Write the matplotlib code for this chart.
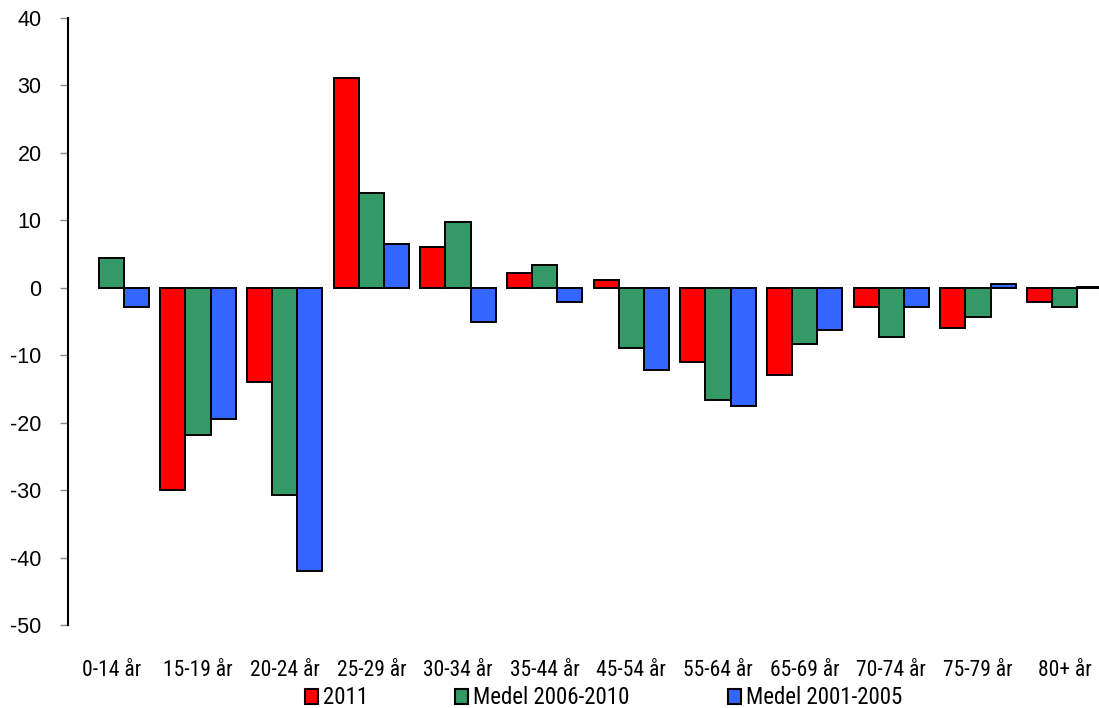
import numpy as np
import matplotlib.pyplot as plt
from matplotlib.patches import Patch

plt.rcParams['font.family'] = ['Liberation Sans', 'DejaVu Sans']
plt.rcParams['axes.unicode_minus'] = False

categories = ['0-14 år', '15-19 år', '20-24 år', '25-29 år', '30-34 år', '35-44 år',
              '45-54 år', '55-64 år', '65-69 år', '70-74 år', '75-79 år', '80+ år']
serie_2011 = [np.nan, -30.0, -13.9, 31.1, 6.1, 2.2, 1.2, -11.0, -12.9, -2.8, -5.9, -2.1]
serie_0610 = [4.4, -21.8, -30.7, 14.1, 9.8, 3.4, -8.9, -16.6, -8.3, -7.3, -4.3, -2.8]
serie_0105 = [-2.8, -19.4, -42.0, 6.5, -5.0, -2.1, -12.2, -17.6, -6.2, -2.8, 0.6, 0.1]
labels = ['2011', 'Medel 2006-2010', 'Medel 2001-2005']
colors = ['#ff0000', '#339966', '#3366ff']

# no Arial Narrow here, Roboto Condensed is the closest
narrow = ['Roboto Condensed', 'DejaVu Sans']

fig = plt.figure(figsize=(10.99, 7.08), dpi=100)
W, H = 1099, 708
# axes goes a little past the right edge, like the cropped original
ax = fig.add_axes([68 / W, 1 - 625 / H, (1108 - 68) / W, (625 - 18) / H])

x = np.arange(len(categories))
w = 1 / 3.45
for i, (vals, c) in enumerate(zip([serie_2011, serie_0610, serie_0105], colors)):
    ax.bar(x + (i - 1) * w, vals, width=w, color=c, edgecolor='black', linewidth=1.4, zorder=3)

ax.set_xlim(-0.5, 11.5)
ax.set_ylim(-50, 40)
ax.set_yticks(range(-50, 41, 10))
ax.set_xticks(x)
ax.set_xticklabels(categories, fontfamily=narrow, fontsize=15.5)
ax.tick_params(axis='x', length=0, pad=25)
ax.tick_params(axis='y', length=6, width=1, color='#888888', labelsize=15.5, pad=13)

for s in ['top', 'right', 'bottom']:
    ax.spines[s].set_visible(False)
ax.spines['left'].set_linewidth(1.5)

# one legend per entry so the spacing can follow the original
legend_x = [305, 455, 728]
for xl, c, lab in zip(legend_x, colors, labels):
    h = Patch(facecolor=c, edgecolor='black', linewidth=1.5)
    leg = fig.legend([h], [lab], loc='center left', bbox_to_anchor=(xl / W, 1 - 698 / H),
                     frameon=False, handlelength=0.55, handleheight=0.6, handletextpad=0.25,
                     borderpad=0, borderaxespad=0, prop={'family': narrow, 'size': 16.5})

plt.savefig('out.png', dpi=100)
